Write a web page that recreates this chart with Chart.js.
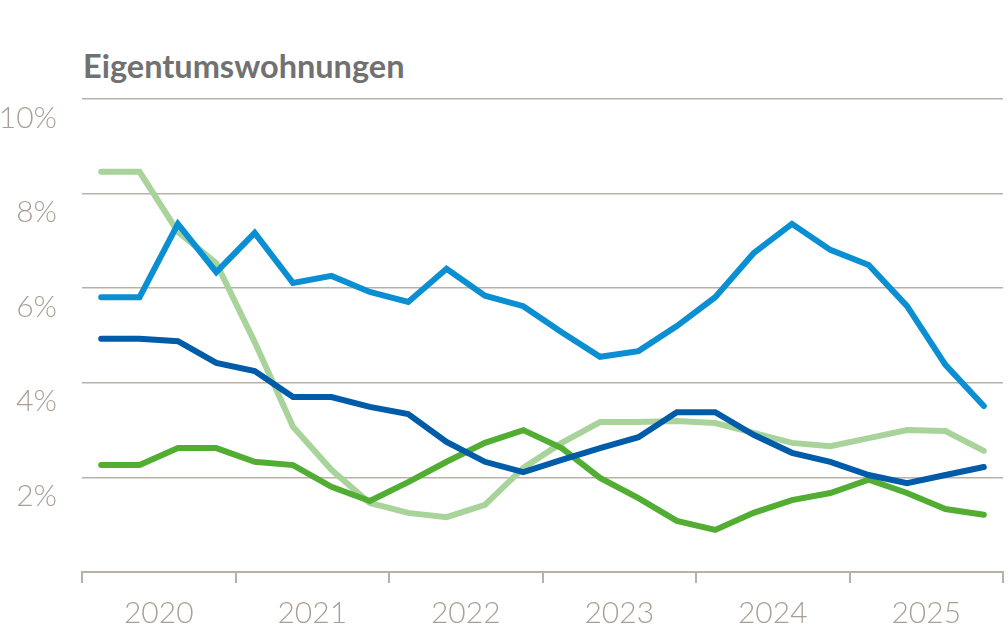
<!DOCTYPE html>
<html>
<head>
<meta charset="utf-8">
<title>Eigentumswohnungen</title>
<script src="https://cdn.jsdelivr.net/npm/chart.js@4/dist/chart.umd.min.js"></script>
<style>
    html, body { margin: 0; padding: 0; background: #fff; }
    #wrap { position: relative; width: 1008px; height: 633px; overflow: hidden; }
    #title {
        position: absolute; left: 83px; top: 50px;
        font: bold 32.5px Lato, "Open Sans", sans-serif; line-height: 32px;
        color: #717171;
    }
    #chart { position: absolute; left: 0; top: 0; }
</style>
</head>
<body>
<div id="wrap">
    <div id="title">Eigentumswohnungen</div>
    <canvas id="chart" width="1008" height="633"></canvas>
</div>
<script>
// quarterly values, %
const years = ['2020', '2021', '2022', '2023', '2024', '2025'];
const quarters = years.flatMap(y => ['Q1', 'Q2', 'Q3', 'Q4'].map(q => q + ' ' + y));
const yTicks = [0, 2, 4, 6, 8, 10];

const lightBlue  = [5.81, 5.81, 7.36, 6.34, 7.17, 6.11, 6.26, 5.92, 5.71, 6.41, 5.84, 5.62,
                    5.07, 4.55, 4.67, 5.20, 5.81, 6.74, 7.36, 6.81, 6.49, 5.62, 4.38, 3.51];
const darkBlue   = [4.93, 4.93, 4.88, 4.42, 4.25, 3.70, 3.70, 3.49, 3.34, 2.75, 2.33, 2.11,
                    2.37, 2.62, 2.85, 3.38, 3.38, 2.90, 2.52, 2.33, 2.05, 1.88, 2.05, 2.22];
const green      = [2.26, 2.26, 2.62, 2.62, 2.33, 2.26, 1.80, 1.50, 1.90, 2.33, 2.73, 3.00,
                    2.62, 1.99, 1.56, 1.08, 0.89, 1.25, 1.52, 1.67, 1.95, 1.67, 1.33, 1.21];
const lightGreen = [8.46, 8.46, 7.19, 6.53, 4.86, 3.07, 2.16, 1.46, 1.25, 1.16, 1.42, 2.20,
                    2.73, 3.17, 3.17, 3.19, 3.15, 2.94, 2.73, 2.66, 2.83, 3.00, 2.98, 2.56];

const gridColor = '#b9b1a9';
const tickColor = '#a99f96';

// each quarter sits in the middle of its slot on a 0..24 axis
function toPoints(values) {
    return values.map((v, i) => ({ x: i + 0.5, y: v }));
}

function line(values, color) {
    return {
        data: toPoints(values),
        borderColor: color,
        borderWidth: 6,
        borderCapStyle: 'round',
        borderJoinStyle: 'miter',
        pointRadius: 0,
        pointHoverRadius: 0,
        tension: 0,
        fill: false
    };
}

const ctx = document.getElementById('chart').getContext('2d');
new Chart(ctx, {
    type: 'line',
    data: {
        datasets: [
            line(lightBlue, '#0b8fd3'),
            line(darkBlue, '#005ca8'),
            line(green, '#52ad33'),
            line(lightGreen, '#a8d49c')
        ]
    },
    options: {
        responsive: false,
        animation: false,
        layout: { autoPadding: false, padding: { top: 99, right: 5, left: 0, bottom: 0 } },
        plugins: { legend: { display: false }, tooltip: { enabled: false } },
        scales: {
            x: {
                type: 'linear',
                min: 0,
                max: quarters.length,
                afterBuildTicks: scale => {
                    const t = [];
                    for (let v = 0; v <= quarters.length; v += 2) t.push({ value: v });
                    scale.ticks = t;
                },
                afterFit: scale => {
                    scale.height = 61;
                    // tick padding would otherwise eat into the right edge
                    scale.paddingLeft = 0;
                    scale.paddingRight = 0;
                },
                border: { display: true, color: gridColor, width: 2 },
                grid: {
                    drawOnChartArea: false,
                    drawTicks: true,
                    tickLength: 11,
                    lineWidth: 2,
                    color: c => (c.tick && c.tick.value % 4 === 0) ? gridColor : 'rgba(0,0,0,0)'
                },
                ticks: {
                    autoSkip: false,
                    maxRotation: 0,
                    padding: 12,
                    color: tickColor,
                    font: { family: 'Lato, "Open Sans", sans-serif', size: 30, weight: 300 },
                    callback: v => (v % 4 === 2) ? years[(v - 2) / 4] : ''
                }
            },
            y: {
                min: 0,
                max: 10,
                afterBuildTicks: scale => { scale.ticks = yTicks.map(v => ({ value: v })); },
                afterFit: scale => { scale.width = 82; },
                border: { display: false },
                grid: {
                    drawTicks: false,
                    lineWidth: 1.5,
                    color: c => (c.tick && c.tick.value === 0) ? 'rgba(0,0,0,0)' : gridColor
                },
                ticks: {
                    padding: 25,
                    labelOffset: 19,
                    color: tickColor,
                    font: { family: 'Lato, "Open Sans", sans-serif', size: 30, weight: 300 },
                    callback: v => v === 0 ? '' : v + '%'
                }
            }
        }
    }
});
</script>
</body>
</html>
